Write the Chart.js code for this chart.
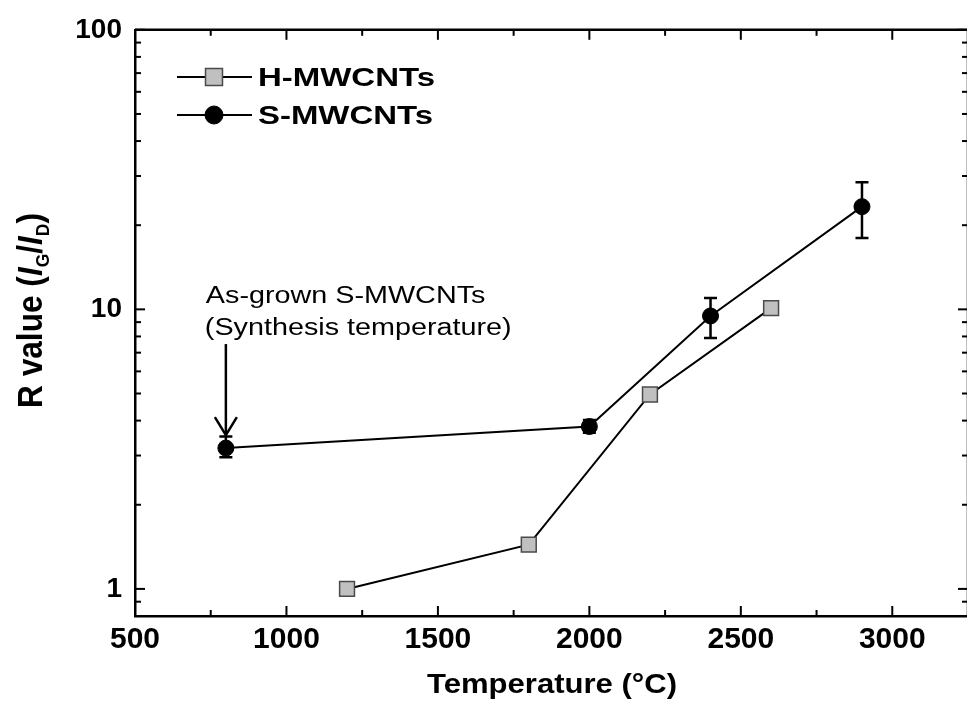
<!DOCTYPE html>
<html><head><meta charset="utf-8">
<script src="https://cdn.jsdelivr.net/npm/chart.js@4.4.1/dist/chart.umd.min.js"></script>
<style>
html,body{margin:0;padding:0;background:#fff;overflow:hidden;}
#wrap{width:967px;height:702px;overflow:hidden;position:relative;background:#fff;}
canvas{display:block;}
</style></head><body>
<div id="wrap"><canvas id="c" width="980" height="702"></canvas></div>
<script>
// ---- data ----
const hTemps = [1200, 1800, 2200, 2600];
const hValues = [1.0, 1.44, 4.96, 10.1];
const sTemps = [800, 2000, 2400, 2900];
const sValues = [3.19, 3.81, 9.47, 23.3];
const sErrLow = [2.96, 3.62, 7.9, 18.0];
const sErrHigh = [3.51, 4.02, 10.97, 28.5];
const seriesNames = ['H-MWCNTs', 'S-MWCNTs'];
const xTickLabels = [500, 1000, 1500, 2000, 2500, 3000];
const xMinorTicks = [750, 1250, 1750, 2250, 2750];
const yTickLabels = [1, 10, 100];
const yMinorTicks = [0.9, 2, 3, 4, 5, 6, 7, 8, 9, 20, 30, 40, 50, 60, 70, 80, 90];
const xTitle = 'Temperature (°C)';
const annotationLines = ['As-grown S-MWCNTs', '(Synthesis temperature)'];

const FONT = '"Liberation Sans", Arial, Helvetica, sans-serif';

function stretchText(ctx, text, x, y, font, sx) {
  ctx.save();
  ctx.font = font;
  ctx.textBaseline = 'alphabetic';
  ctx.textAlign = 'left';
  ctx.translate(x, y);
  ctx.scale(sx, 1);
  ctx.fillText(text, 0, 0);
  ctx.restore();
}
function fitText(ctx, text, x, y, font, width) {
  ctx.save();
  ctx.font = font;
  const w = ctx.measureText(text).width;
  ctx.restore();
  stretchText(ctx, text, x, y, font, width / w);
}

const decor = {
  id: 'decor',
  afterDatasetsDraw(chart) {
    const ctx = chart.ctx, xs = chart.scales.x, ys = chart.scales.y;
    const ds = chart.data.datasets[1];
    ctx.save();
    ctx.strokeStyle = '#000';
    ctx.lineWidth = 2.5;
    ds.data.forEach((p, i) => {
      const x = xs.getPixelForValue(p.x);
      const y1 = ys.getPixelForValue(ds.errLow[i]);
      const y2 = ys.getPixelForValue(ds.errHigh[i]);
      ctx.beginPath();
      ctx.moveTo(x, y1); ctx.lineTo(x, y2);
      ctx.moveTo(x - 6.5, y1); ctx.lineTo(x + 6.5, y1);
      ctx.moveTo(x - 6.5, y2); ctx.lineTo(x + 6.5, y2);
      ctx.stroke();
    });
    ctx.restore();
  },
  afterDraw(chart) {
    const ctx = chart.ctx, xs = chart.scales.x, ys = chart.scales.y;
    const a = chart.chartArea;
    ctx.save();
    ctx.strokeStyle = '#000';
    ctx.fillStyle = '#000';
    // frame top/right
    ctx.lineWidth = 2.5;
    ctx.beginPath();
    ctx.moveTo(a.left, a.top); ctx.lineTo(a.right, a.top); ctx.lineTo(a.right, a.bottom);
    ctx.stroke();
    // ticks (inward)
    ctx.lineWidth = 2;
    const tick = (x1, y1, x2, y2) => { ctx.beginPath(); ctx.moveTo(x1, y1); ctx.lineTo(x2, y2); ctx.stroke(); };
    xTickLabels.forEach(v => { const x = xs.getPixelForValue(v); tick(x, a.bottom, x, a.bottom - 10); tick(x, a.top, x, a.top + 10); });
    xMinorTicks.forEach(v => { const x = xs.getPixelForValue(v); tick(x, a.bottom, x, a.bottom - 6); tick(x, a.top, x, a.top + 6); });
    yTickLabels.forEach(v => { const y = ys.getPixelForValue(v); tick(a.left, y, a.left + 10, y); tick(a.right, y, a.right - 10, y); });
    yMinorTicks.forEach(v => { const y = ys.getPixelForValue(v); tick(a.left, y, a.left + 6, y); tick(a.right, y, a.right - 6, y); });

    // legend
    const legRows = [{ y: 77, i: 0, ty: 86, w: 177, r: 12 }, { y: 115, i: 1, ty: 124, w: 175, r: 9 }];
    legRows.forEach(row => {
      const d = chart.data.datasets[row.i];
      ctx.lineWidth = 2;
      ctx.strokeStyle = '#000';
      tick(177, row.y, 252, row.y);
      ctx.fillStyle = d.pointBackgroundColor;
      ctx.strokeStyle = d.pointBorderColor;
      ctx.lineWidth = d.pointBorderWidth;
      Chart.helpers.drawPoint(ctx, { pointStyle: d.pointStyle, radius: row.r, borderWidth: d.pointBorderWidth, rotation: 0 }, 214, row.y);
      ctx.fillStyle = '#000';
      fitText(ctx, d.label, 258, row.ty, 'bold 26.5px ' + FONT, row.w);
    });

    // annotation arrow anchored to first S point
    const px = xs.getPixelForValue(sTemps[0]);
    const py = ys.getPixelForValue(sValues[0]);
    ctx.strokeStyle = '#000';
    ctx.lineWidth = 2.5;
    const tip = py - 13;
    tick(px, py - 104, px, tip);
    ctx.beginPath();
    ctx.moveTo(px - 11, tip - 18); ctx.lineTo(px, tip); ctx.lineTo(px + 11, tip - 18);
    ctx.stroke();
    ctx.fillStyle = '#000';
    stretchText(ctx, annotationLines[0], px - 20, py - 145, '23px ' + FONT, 1.25);
    stretchText(ctx, annotationLines[1], px - 21, py - 113, '23px ' + FONT, 1.25);

    // x title
    fitText(ctx, xTitle, 427, 693, 'bold 28px ' + FONT, 250);

    // y title (rotated, rich text)
    const segs = [
      { t: 'R value (', f: 'bold 29px ' + FONT, dy: 0 },
      { t: 'I', f: 'italic bold 29px ' + FONT, dy: 0 },
      { t: 'G', f: 'bold 16px ' + FONT, dy: 6 },
      { t: '/', f: 'bold 29px ' + FONT, dy: 0 },
      { t: 'I', f: 'italic bold 29px ' + FONT, dy: 0 },
      { t: 'D', f: 'bold 16px ' + FONT, dy: 6 },
      { t: ')', f: 'bold 29px ' + FONT, dy: 0 }
    ];
    let total = 0;
    segs.forEach(s => { ctx.font = s.f; s.w = ctx.measureText(s.t).width; total += s.w; });
    ctx.save();
    ctx.translate(42, 408);
    ctx.rotate(-Math.PI / 2);
    ctx.scale(195 / total, 1.2);
    ctx.textBaseline = 'alphabetic';
    ctx.textAlign = 'left';
    let cx = 0;
    segs.forEach(s => { ctx.font = s.f; ctx.fillText(s.t, cx, s.dy); cx += s.w; });
    ctx.restore();
    ctx.restore();
  }
};

const chart = new Chart(document.getElementById('c'), {
  type: 'line',
  data: {
    datasets: [
      {
        label: seriesNames[0],
        data: hTemps.map((x, i) => ({ x, y: hValues[i] })),
        borderColor: '#000', borderWidth: 2, fill: false, tension: 0,
        pointStyle: 'rect', pointRadius: 10.5,
        pointBackgroundColor: '#c0c0c0', pointBorderColor: '#4a4a4a', pointBorderWidth: 1.5
      },
      {
        label: seriesNames[1],
        data: sTemps.map((x, i) => ({ x, y: sValues[i] })),
        errLow: sErrLow, errHigh: sErrHigh,
        borderColor: '#000', borderWidth: 2, fill: false, tension: 0,
        pointStyle: 'circle', pointRadius: 8,
        pointBackgroundColor: '#000', pointBorderColor: '#000', pointBorderWidth: 1
      }
    ]
  },
  options: {
    responsive: false, animation: false, devicePixelRatio: 1,
    layout: { padding: { top: 27, right: 8, left: 0, bottom: 0 } },
    plugins: { legend: { display: false }, tooltip: { enabled: false } },
    scales: {
      x: {
        type: 'linear', position: 'bottom', min: 500, max: 3250,
        afterBuildTicks: s => { s.ticks = xTickLabels.map(v => ({ value: v })); },
        afterFit: s => { s.height = 86; },
        grid: { display: false, drawTicks: false },
        border: { display: true, color: '#000', width: 2.5 },
        ticks: { font: { family: FONT, size: 30, weight: 'bold' }, color: '#000', padding: 6, maxRotation: 0, autoSkip: false, callback: v => String(v) }
      },
      y: {
        type: 'logarithmic', position: 'left', min: 0.8, max: 100,
        afterBuildTicks: s => { s.ticks = yTickLabels.map(v => ({ value: v })); },
        afterFit: s => { s.width = 135; },
        grid: { display: false, drawTicks: false },
        border: { display: true, color: '#000', width: 2.5 },
        ticks: { font: { family: FONT, size: 28, weight: 'bold' }, color: '#000', padding: 13, autoSkip: false, callback: v => String(v) }
      }
    }
  },
  plugins: [decor]
});
</script>
</body></html>
